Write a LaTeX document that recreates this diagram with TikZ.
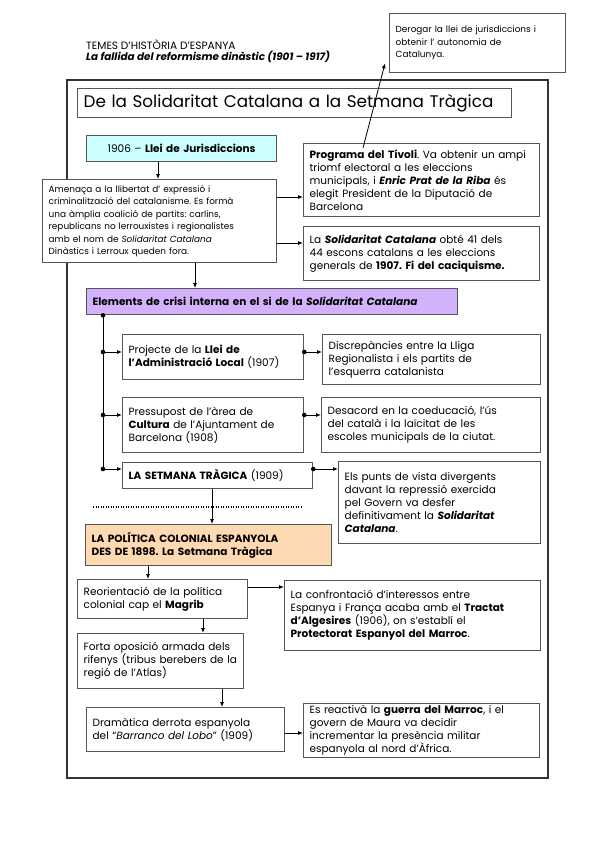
\documentclass[tikz,border=0pt]{standalone}
\usepackage{fontspec}
\setmainfont{Poppins}
\usetikzlibrary{arrows.meta,calc}
\frenchspacing
\definecolor{boxc}{HTML}{555555}
\definecolor{framec}{HTML}{333333}
\definecolor{cyanf}{HTML}{CCFFFF}
\definecolor{purplef}{RGB}{210,178,250}
\definecolor{orangef}{RGB}{255,217,178}
\newcommand\fbody{\fontsize{10.5}{13}\selectfont}
\newcommand\fsmall{\fontsize{8.9}{12.4}\selectfont}
\tikzset{
  box/.style={draw=boxc, line width=1.3pt, fill=white, inner xsep=6pt, inner ysep=2pt,
    align=left, anchor=north west, font=\fbody},
  arr/.style={draw=black, line width=0.8pt, -{Latex[length=5pt,width=4pt]}},
  con/.style={draw=black, line width=0.8pt},
  dot/.style={fill=black},
}
\begin{document}
\begin{tikzpicture}[x=1pt,y=-1pt]
\useasboundingbox (0,0) rectangle (599,848);
% header
\node[anchor=west, inner sep=0pt, font=\fontsize{10.6}{12}\selectfont] (h1) at (86,45) {TEMES D'HISTÒRIA D'ESPANYA};
\node[anchor=west, inner sep=0pt, font=\fontsize{10.4}{12}\selectfont\bfseries\itshape] (h2) at (86,57) {La fallida del reformisme dinàstic (1901 – 1917)};
% frame
\draw[draw=framec, line width=1.6pt] (67,80) rectangle (548,778);
% top right box
\node[box, font=\fsmall, inner xsep=6pt, text width=164pt, minimum height=59pt] (tr) at (389,13)
 {Derogar la llei de jurisdiccions i\\obtenir l' autonomia de\\Catalunya.};
% title
\node[box, font=\fontsize{16.8}{19}\selectfont, text width=422pt, minimum height=29pt] (title) at (77,88)
 {De la Solidaritat Catalana a la Setmana Tràgica};
% 1906
\node[box, fill=cyanf, align=center, text width=178pt, minimum height=26pt] (b1906) at (86,135)
 {1906 – \textbf{Llei de Jurisdiccions}};
\node[box, font=\fsmall, text width=222pt, minimum height=83pt] (amen) at (42,179)
 {Amenaça a la llibertat d' expressió i\\criminalització del catalanisme. Es formà\\una àmplia coalició de partits: carlins,\\republicans no lerrouxistes i regionalistes\\amb el nom de \textit{Solidaritat Catalana}\\Dinàstics i Lerroux queden fora.};
\node[box, text width=224pt, minimum height=73pt] (prog) at (303,143)
 {\textbf{Programa del Tívoli}. Va obtenir un ampi\\triomf electoral a les eleccions\\municipals, i \textbf{\textit{Enric Prat de la Riba}} és\\elegit President de la Diputació de\\Barcelona};
\node[box, text width=224pt, minimum height=54pt] (solid) at (303,226)
 {La \textbf{\textit{Solidaritat Catalana}} obté 41 dels\\44 escons catalans a les eleccions\\generals de \textbf{1907. Fi del caciquisme.}};
% crisis
\node[box, fill=purplef, text width=359pt, minimum height=26pt] (purple) at (86,288)
 {\textbf{Elements de crisi interna en el si de la \textit{Solidaritat Catalana}}};
\node[box, text width=169pt, minimum height=45pt] (proj) at (122,334)
 {Projecte de la \textbf{Llei de}\\\textbf{l’Administració Local} (1907)};
\node[box, text width=206pt, minimum height=50pt] (disc) at (322,334)
 {Discrepàncies entre la Lliga\\Regionalista i els partits de\\l’esquerra catalanista};
\node[box, text width=169pt, minimum height=55pt] (press) at (122,397)
 {Pressupost de l’àrea de\\\textbf{Cultura} de l’Ajuntament de\\Barcelona (1908)};
\node[box, text width=207pt, minimum height=55pt] (desac) at (321,397)
 {Desacord en la coeducació, l’ús\\del català i la laïcitat de les\\escoles municipals de la ciutat.};
\node[box, text width=178pt, minimum height=26pt] (setm) at (122,462)
 {\textbf{LA SETMANA TRÀGICA} (1909)};
\node[box, text width=190pt, minimum height=82pt] (els) at (338,461)
 {Els punts de vista divergents\\davant la repressió exercida\\pel Govern va desfer\\definitivament la \textbf{\textit{Solidaritat}}\\\textbf{\textit{Catalana}}.};
\draw[line width=1.2pt, dash pattern=on 1pt off 1.5pt] (93,507) -- (303,507);
% colonial
\node[box, fill=orangef, text width=234pt, minimum height=41pt] (orange) at (85,524)
 {\textbf{LA POLÍTICA COLONIAL ESPANYOLA}\\\textbf{DES DE 1898. La Setmana Tràgica}};
\node[box, text width=158pt, minimum height=39pt] (reor) at (77,579)
 {Reorientació de la política\\colonial cap el \textbf{Magrib}};
\node[box, text width=244pt, minimum height=70pt] (conf) at (284,580)
 {La confrontació d’interessos entre\\Espanya i França acaba amb el \textbf{Tractat}\\\textbf{d’Algesires} (1906), on s’establí el\\\textbf{Protectorat Espanyol del Marroc}.};
\node[box, text width=154pt, minimum height=55pt] (forta) at (77,633)
 {Forta oposició armada dels\\rifenys (tribus berebers de la\\regió de l’Atlas)};
\node[box, text width=186pt, minimum height=44pt] (dram) at (86,707)
 {Dramàtica derrota espanyola\\del “\textit{Barranco del Lobo}” (1909)};
\node[box, text width=224pt, minimum height=48pt] (reac) at (303,703)
 {Es reactivà la \textbf{guerra del Marroc}, i el\\govern de Maura va decidir\\incrementar la presència militar\\espanyola al nord d’Àfrica.};
% connectors
\draw[arr] ($(prog.north west)+(60,5)$) -- ($(tr.south west)+(-4,-10)$);
\draw[arr] (b1906.south -| 158,0) -- (amen.north -| 158,0);
\draw[arr] (amen.east |- 0,197) -- (prog.west |- 0,197);
\draw[arr] (amen.east |- 0,243) -- (solid.west |- 0,243);
\draw[arr] (amen.south -| 195,0) -- (purple.north -| 195,0);
\coordinate (j0) at (purple.south -| 103,0);
\coordinate (j1) at (103,352);
\coordinate (j2) at (103,415);
\coordinate (j3) at (103,469);
\draw[con] (j0) -- (j3);
\draw[arr] (j1) -- (proj.west |- j1);
\draw[arr] (j2) -- (press.west |- j2);
\draw[arr] (j3) -- (setm.west |- j3);
\foreach \j in {j0,j1,j2,j3} \fill[dot] (\j) circle (2.3);
\coordinate (k1) at (proj.east |- 0,352);
\coordinate (k2) at (press.east |- 0,415);
\coordinate (k3) at (setm.east |- 0,469);
\draw[arr] (k1) -- (disc.west |- k1);
\draw[arr] (k2) -- (desac.west |- k2);
\draw[arr] (k3) -- (els.west |- k3);
\foreach \k in {k1,k2,k3} \fill[dot] (\k) circle (2.3);
\draw[arr] (setm.south -| 212,0) -- (orange.north -| 212,0);
\draw[arr] (orange.south -| 148,0) -- (reor.north -| 148,0);
\draw[arr] (reor.east |- 0,587) -- (conf.west |- 0,587);
\draw[arr] (reor.south -| 203,0) -- (forta.north -| 203,0);
\draw[arr] (forta.south -| 222,0) -- (dram.north -| 222,0);
\draw[arr] (dram.east |- 0,733) -- (reac.west |- 0,733);
\end{tikzpicture}
\end{document}
